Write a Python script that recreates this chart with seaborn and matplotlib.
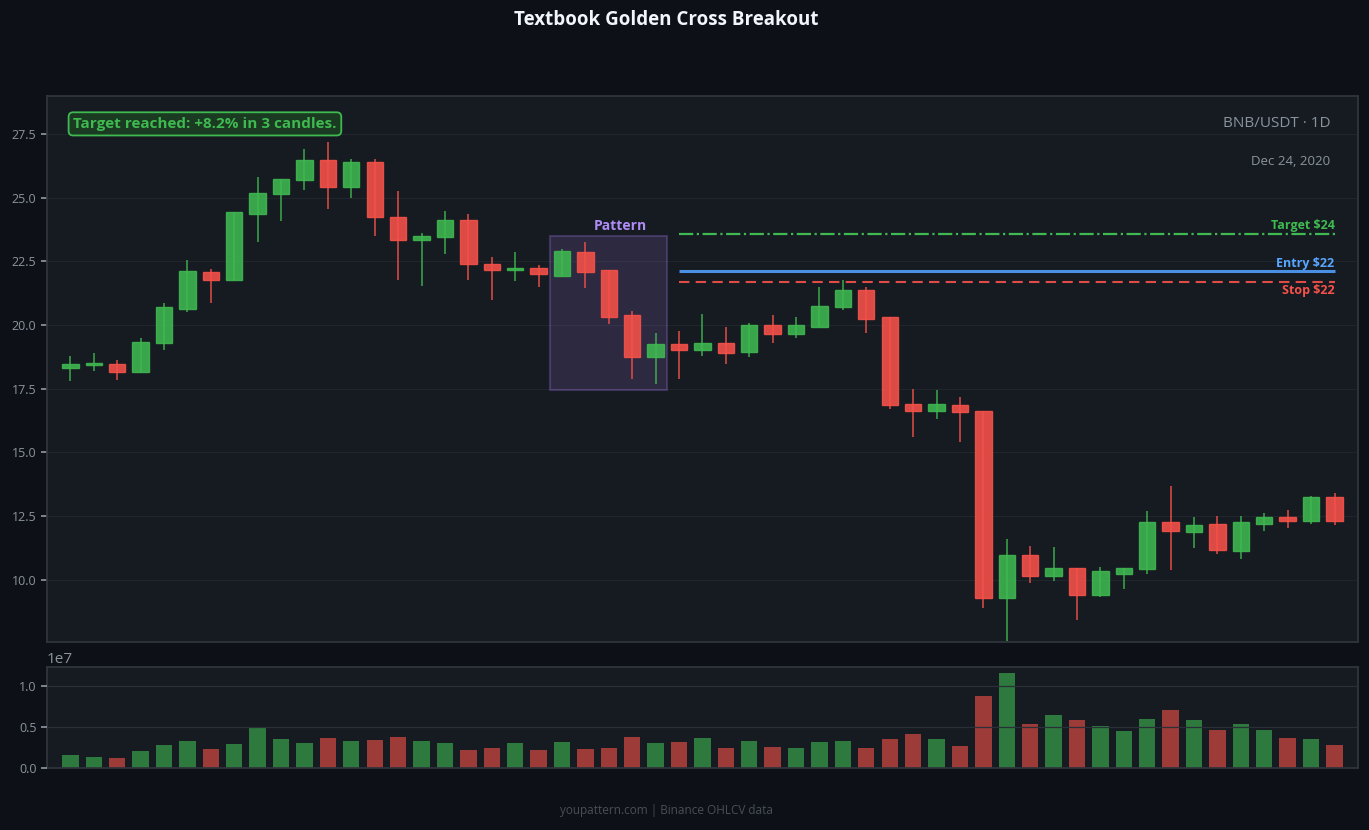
import numpy as np
import pandas as pd
import matplotlib
matplotlib.use("Agg")
import matplotlib.pyplot as plt
from matplotlib.patches import Rectangle
import seaborn as sns

# OHLCV (BNB/USDT daily)
opens = [18.30, 18.44, 18.49, 18.16, 19.28, 20.64, 22.07, 21.78, 24.35, 25.14,
         25.69, 26.47, 25.44, 26.39, 24.26, 23.33, 23.45, 24.12, 22.42, 22.15,
         22.23, 21.94, 22.86, 22.15, 20.38, 18.73, 19.24, 19.01, 19.28, 18.93,
         19.99, 19.66, 19.93, 20.72, 21.36, 20.30, 16.92, 16.61, 16.88, 16.61,
         9.26, 10.95, 10.15, 10.44, 9.40, 10.24, 10.40, 12.28, 11.89, 12.17,
         11.14, 12.20, 12.48, 12.32, 13.23]
highs = [18.78, 18.91, 18.62, 19.49, 20.88, 22.55, 22.20, 24.45, 25.82, 25.75,
         26.92, 27.21, 26.53, 26.53, 25.27, 23.60, 24.48, 24.36, 22.67, 22.87,
         22.36, 22.99, 23.26, 22.17, 20.55, 19.69, 19.76, 20.43, 19.92, 20.08,
         20.39, 20.31, 21.49, 21.77, 21.49, 20.31, 17.48, 17.44, 17.17, 16.63,
         11.59, 11.31, 11.27, 10.45, 10.49, 10.46, 12.69, 13.67, 12.45, 12.49,
         12.49, 12.61, 12.73, 13.28, 13.40]
lows = [17.80, 18.20, 17.84, 18.13, 19.02, 20.51, 20.88, 21.74, 23.28, 24.10,
        25.32, 24.57, 25.00, 23.51, 21.77, 21.53, 22.79, 21.77, 20.98, 21.73,
        21.51, 21.89, 21.47, 20.05, 17.89, 17.69, 17.89, 18.79, 18.48, 18.76,
        19.31, 19.50, 19.91, 20.59, 19.69, 16.71, 15.60, 16.31, 15.40, 8.89,
        7.60, 9.87, 9.95, 8.42, 9.32, 9.63, 10.22, 10.38, 11.25, 11.01,
        10.81, 11.92, 12.03, 12.19, 12.15]
closes = [18.49, 18.49, 18.16, 19.32, 20.70, 22.11, 21.78, 24.43, 25.18, 25.73,
          26.47, 25.44, 26.39, 24.26, 23.33, 23.49, 24.12, 22.39, 22.15, 22.23,
          21.99, 22.90, 22.10, 20.33, 18.73, 19.24, 19.01, 19.28, 18.89, 19.99,
          19.66, 19.99, 20.77, 21.36, 20.25, 16.88, 16.61, 16.92, 16.57, 9.26,
          10.95, 10.15, 10.44, 9.40, 10.32, 10.44, 12.28, 11.93, 12.13, 11.18,
          12.25, 12.48, 12.32, 13.23, 12.32]
volumes_m = [1.57, 1.33, 1.21, 2.06, 2.78, 3.27, 2.30, 2.91, 4.84, 3.51,
             3.03, 3.63, 3.27, 3.39, 3.75, 3.27, 3.03, 2.18, 2.42, 3.03,
             2.18, 3.15, 2.30, 2.42, 3.75, 3.03, 3.15, 3.63, 2.42, 3.27,
             2.54, 2.42, 3.15, 3.27, 2.42, 3.51, 4.12, 3.51, 2.66, 8.84,
             11.62, 5.33, 6.42, 5.81, 5.08, 4.48, 5.93, 7.02, 5.81, 4.60,
             5.33, 4.60, 3.63, 3.51, 2.78]

pattern_first, pattern_last = 21, 25
trade_start = 26
target_price = 23.58
entry_price = 22.12
stop_price = 21.69

BG = "#0d1117"
PANEL = "#161b22"
GRID = "#21262d"
GREEN = "#3fb950"
RED = "#f85149"
BLUE = "#4a90e2"
PURPLE = "#b08cf7"
MUTED = "#8b949e"

df = pd.DataFrame({"open": opens, "high": highs, "low": lows,
                   "close": closes, "volume": np.array(volumes_m) * 1e6})
df["idx"] = np.arange(len(df))
df["dir"] = np.where(df["close"] >= df["open"], "up", "down")

sns.set_theme(style="dark", rc={
    "figure.facecolor": BG, "axes.facecolor": PANEL,
    "axes.edgecolor": "#30363d", "grid.color": GRID,
    "xtick.color": MUTED, "ytick.color": MUTED, "text.color": MUTED,
    "axes.labelcolor": MUTED,
})
plt.rcParams["font.family"] = ["Open Sans", "DejaVu Sans"]

fig = plt.figure(figsize=(13.69, 8.30), dpi=100)
ax = fig.add_axes([0.0343, 0.2265, 0.9576, 0.6578])
axv = fig.add_axes([0.0343, 0.0747, 0.9576, 0.1217], sharex=ax)

colors = df["dir"].map({"up": GREEN, "down": RED})

# candles
ax.vlines(df["idx"], df["low"], df["high"], colors=colors, lw=1.1, alpha=0.9, zorder=3)
body_lo = df[["open", "close"]].min(axis=1)
body_h = (df["close"] - df["open"]).abs().clip(lower=0.06)
ax.bar(df["idx"], body_h, bottom=body_lo, width=0.7, color=colors,
       edgecolor=colors, linewidth=1, alpha=0.88, zorder=4)

# pattern box
p_top = df["high"][pattern_first:pattern_last + 1].max() + 0.25
p_bot = df["low"][pattern_first:pattern_last + 1].min() - 0.22
ax.add_patch(Rectangle((pattern_first - 0.5, p_bot), pattern_last - pattern_first + 1,
                       p_top - p_bot, facecolor=(0.60, 0.45, 0.85, 0.17),
                       edgecolor=(0.60, 0.45, 0.85, 0.30), lw=1.5, zorder=2))
ax.text((pattern_first + pattern_last) / 2 + 0.5, p_top + 0.1, "Pattern",
        color=PURPLE, fontsize=10, fontweight="bold", ha="center", va="bottom")

# trade levels
end = len(df) - 1
ax.hlines(target_price, trade_start, end, colors=GREEN, lw=1.6, linestyles="-.", zorder=5)
ax.hlines(entry_price, trade_start, end, colors=BLUE, lw=2.2, zorder=5)
ax.hlines(stop_price, trade_start, end, colors=RED, lw=1.5, alpha=0.9,
          linestyles=(0, (5, 3)), zorder=5)
ax.text(end, target_price + 0.08, f"Target ${target_price:.0f}", color=GREEN,
        fontsize=9, fontweight="bold", ha="right", va="bottom")
ax.text(end, entry_price + 0.06, f"Entry ${entry_price:.0f}", color="#58a6ff",
        fontsize=9, fontweight="bold", ha="right", va="bottom")
ax.text(end, stop_price - 0.08, f"Stop ${stop_price:.0f}", color=RED,
        fontsize=9, fontweight="bold", ha="right", va="top")

ax.text(0.02, 0.949, "Target reached: +8.2% in 3 candles.", transform=ax.transAxes,
        color=GREEN, fontsize=11, fontweight="bold", ha="left", va="center",
        bbox=dict(boxstyle="round,pad=0.3", facecolor="#1a3a22", edgecolor=GREEN, lw=1.3))
ax.text(0.979, 0.949, "BNB/USDT · 1D", transform=ax.transAxes, color=MUTED,
        fontsize=11, ha="right", va="center")
ax.text(0.979, 0.881, "Dec 24, 2020", transform=ax.transAxes, color=MUTED,
        fontsize=9.5, ha="right", va="center")

ax.set_xlim(-1, len(df))
ax.set_ylim(7.55, 29.0)
ax.set_yticks([10.0, 12.5, 15.0, 17.5, 20.0, 22.5, 25.0, 27.5])
ax.grid(axis="y", color=GRID, lw=0.8)
ax.tick_params(axis="y", labelsize=9, length=4, color=MUTED, left=True)
ax.tick_params(axis="x", bottom=False, labelbottom=False)
ax.set_xlabel("")

# volume
sns.barplot(data=df, x="idx", y="volume", hue="dir",
            palette={"up": GREEN, "down": RED}, native_scale=True, dodge=False,
            width=0.7, alpha=0.6, saturation=1, edgecolor="none", linewidth=0,
            legend=False, ax=axv, zorder=1)
axv.set_ylim(0, df["volume"].max() * 1.06)
axv.set_yticks([0, 0.5e7, 1.0e7])
axv.grid(axis="y", color="#2a3038", lw=0.9, zorder=5)
axv.set_axisbelow(False)
axv.tick_params(axis="y", labelsize=9, length=4, color=MUTED, left=True)
axv.tick_params(axis="x", bottom=False, labelbottom=False)
axv.set_xlabel("")
axv.set_ylabel("")
axv.yaxis.get_offset_text().set_color(MUTED)
axv.yaxis.get_offset_text().set_fontsize(11)
axv.set_xlim(-1, len(df))

fig.suptitle("Textbook Golden Cross Breakout", x=0.4865, y=0.976, color="#f0f6fc",
             fontsize=13.5, fontweight="bold", va="center")
fig.text(0.4865, 0.023, "youpattern.com | Binance OHLCV data", color="#484f58",
         fontsize=8.5, ha="center", va="center")

fig.savefig("out.png", dpi=100, facecolor=BG)
